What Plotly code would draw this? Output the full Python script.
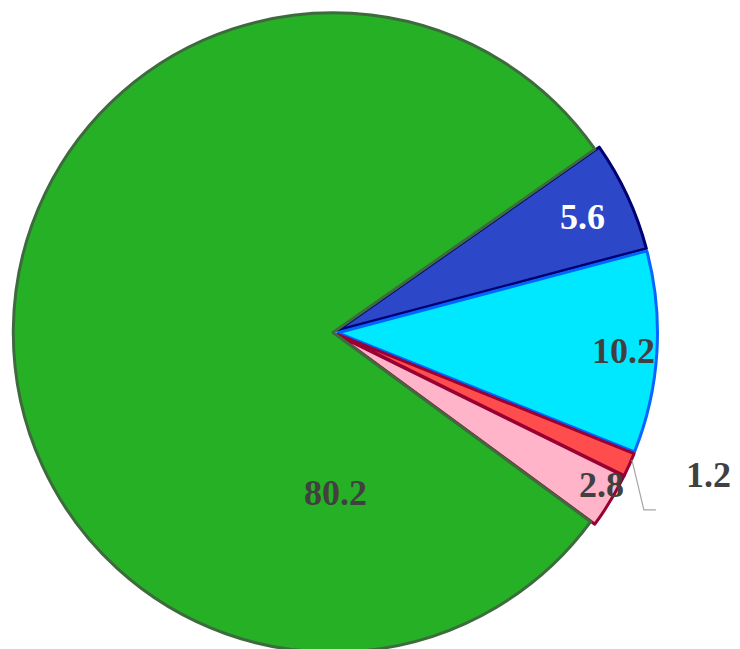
import math
import plotly.graph_objects as go

# ---- data ----
labels = ['5.6', '10.2', '1.2', '2.8', '80.2']
values = [5.6, 10.2, 1.2, 2.8, 80.2]

# ---- style ----
fill_colors = ['#2c47c8', '#00e8ff', '#ff4d4d', '#ffb4ca', '#26b026']
line_colors = ['#000070', '#0066ff', '#990033', '#990033', '#3d6b3d']
text_colors = ['#ffffff', '#404040', '#404040', '#404040', '#404040']
pulls = [0.015, 0.015, 0.015, 0.015, 0.0]
label_frac = [0.845, 0.895, None, 0.95, 0.50]   # None -> outside with leader
label_turn = [0.0, 0.0, -1.0, -1.8, 0.0]       # small angle tweaks (deg)
ROT = 55

W, H = 740, 649
R = 320                       # radius of the pie
half = R * (1 + max(pulls))   # half size of domain
cx, cy = 325, half            # centre in layout pixels

fig = go.Figure(go.Pie(
    labels=labels, values=values, sort=False, direction='clockwise',
    rotation=ROT, pull=pulls, textinfo='none', hoverinfo='label+value',
    marker=dict(colors=fill_colors, line=dict(color=line_colors, width=3)),
    domain=dict(x=[(cx - half) / W, (cx + half) / W],
                y=[max(0, 1 - (cy + half) / H), 1 - (cy - half) / H]),
    showlegend=False))


def to_paper(px, py):
    return px / W, 1 - py / H


def label(px, py, txt, color):
    x, y = to_paper(px, py)
    return dict(x=x, y=y, xref='paper', yref='paper', xanchor='center', yanchor='middle',
                text='<b>%s</b>' % txt, showarrow=False,
                font=dict(family='Liberation Serif', size=36, color=color))


# label positions from cumulative angles
total = sum(values)
start = ROT
annotations, shapes = [], []
for i, v in enumerate(values):
    span = v / total * 360
    mid = start + span / 2
    start += span
    ang = 179 if labels[i] == '80.2' else mid + label_turn[i]  # big slice label sits low
    off = pulls[i] * R
    if label_frac[i] is not None:
        rr = label_frac[i] * R + off
        px = cx + rr * math.sin(math.radians(ang))
        py = cy - rr * math.cos(math.radians(ang))
        annotations.append(label(px, py, labels[i], text_colors[i]))
    else:
        rr = R + off
        tx = cx + rr * math.sin(math.radians(ang))
        ty = cy - rr * math.cos(math.radians(ang))
        p0 = to_paper(tx, ty)
        p1 = to_paper(tx + 12, ty + 50)
        p2 = to_paper(tx + 24, ty + 50)
        shapes.append(dict(type='path', xref='paper', yref='paper',
                           path='M %f %f L %f %f L %f %f' % (p0[0], p0[1], p1[0], p1[1], p2[0], p2[1]),
                           line=dict(color='#a6a6a6', width=1.2)))
        annotations.append(label(tx + 77, ty + 15, labels[i], text_colors[i]))

fig.update_layout(
    width=W, height=H,
    margin=dict(l=0, r=0, t=0, b=0),
    paper_bgcolor='white', plot_bgcolor='white',
    annotations=annotations, shapes=shapes,
)

fig.write_html("out.html")
